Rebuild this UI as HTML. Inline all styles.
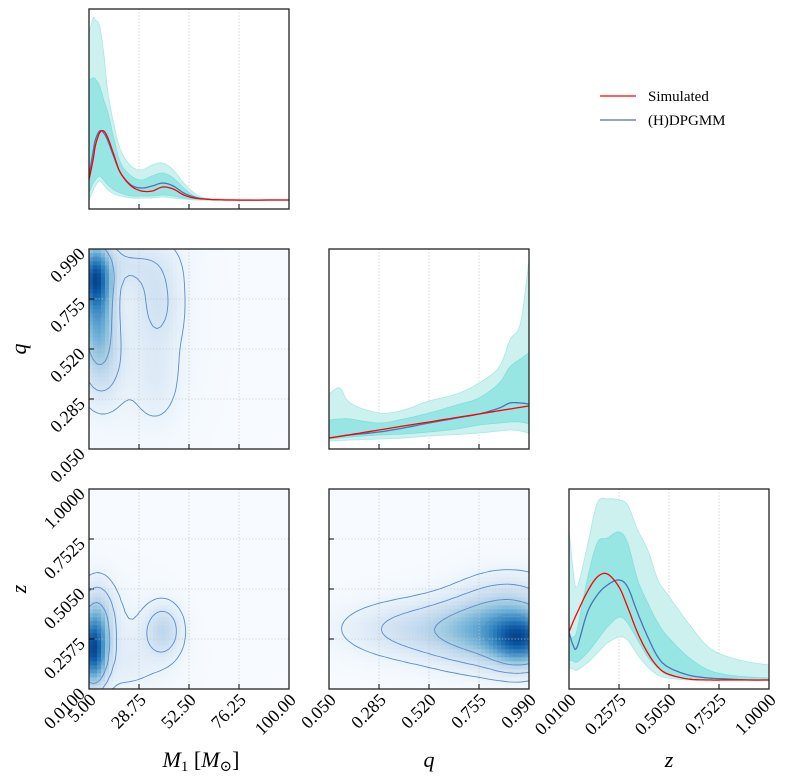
<!DOCTYPE html>
<html><head><meta charset="utf-8">
<style>
html,body{margin:0;padding:0;background:#fff;}
svg{display:block;font-family:"Liberation Serif","DejaVu Serif",serif;}
</style></head>
<body>
<svg id="fig" width="804" height="781" viewBox="0 0 804 781" xmlns="http://www.w3.org/2000/svg"></svg>
<script>
// ---------- DATA ----------
const m1Ticks = [5, 28.75, 52.5, 76.25, 100];
const m1TickLabels = ["5.00","28.75","52.50","76.25","100.00"];
const qTicks = [0.05, 0.285, 0.52, 0.755, 0.99];
const qTickLabels = ["0.050","0.285","0.520","0.755","0.990"];
const zTicks = [0.01, 0.2575, 0.505, 0.7525, 1.0];
const zTickLabels = ["0.0100","0.2575","0.5050","0.7525","1.0000"];

// M1 marginal
const m1Grid = [5,7,8,10,12,14,17,20,25,30,35,40,45,50,55,60,70,100];
const m1Sim  = [29,50,63,76,78,71,53,36,23,18,18,22,20,14,11,10,9,9];
const m1Med  = [33,58,69,78,76,68,51,36,24,21,23,26,23,16,12,10,9,9];
const m1Up90 = [176,191,189,183,156,116,83,59,43,39,44,46,39,26,16,11,10,9];
const m1Up68 = [129,131,130,123,109,96,69,46,33,29,33,36,31,21,13,10,9,9];
const m1Lo68 = [16,26,29,33,29,24,19,16,13,13,13,14,13,11,10,9,9,9];
const m1Lo90 = [9,19,23,28,24,19,15,13,11,11,11,12,11,10,9,9,9,9];

// q marginal
const qGrid  = [0.05,0.1,0.15,0.285,0.4,0.52,0.65,0.755,0.85,0.9,0.95,0.99];
const qSim   = [11,12.7,14.4,19,23,27,31.5,35,38.3,40,41.7,43];
const qMed   = [11,12.5,14,17,21,26,31,35,41,46,46,45];
const qUp90  = [55,61,46,36,39,48,55,66,82,109,126,189];
const qUp68  = [29,30,30,26,30,36,44,51,66,82,90,96];
const qLo68  = [10,11,12,14,15,17,20,24,26,27,27,25];
const qLo90  = [8,8.5,9,10,11,13,14.5,16,18,19,18,16];

// z marginal
const zGrid  = [0.01,0.03,0.05,0.1,0.15,0.2,0.2575,0.3,0.35,0.4,0.45,0.5,0.6,0.7,0.8,0.9,1.0];
const zSim   = [57,67,76,97,112,115,102,82,56,36,22,15,10,9,9,9,9];
const zMed   = [57,44,42,76,94,104,109,102,76,52,32,22,14,11,10,9,9];
const zUp90  = [159,120,102,142,186,190,189,184,159,139,109,94,66,42,32,27,24];
const zUp68  = [49,52,59,109,146,151,157,146,109,86,66,52,32,19,14,12,11];
const zLo68  = [29,28,27,36,49,62,72,66,49,32,21,14,10,9,9,9,9];
const zLo90  = [21,20,19,26,36,46,52,49,34,22,14,11,9,9,9,9,9];

// 2D mixture components: [meanX, meanY, sigmaX, sigmaY, weight]
const m1qComps = [[8,0.86,4.5,0.09,1.0],[9,0.7,5,0.14,0.6],[11,0.48,6.5,0.13,0.22],[38,0.74,7,0.14,0.14],[37,0.38,7,0.13,0.07],[22,0.92,13,0.08,0.12],[25,0.6,18,0.3,0.04]];
const m1zComps = [[7,0.2,4,0.1,1.0],[9,0.35,5,0.11,0.3],[40,0.3,5.5,0.08,0.22],[22,0.15,14,0.1,0.05],[15,0.3,15,0.15,0.03]];
const qzComps  = [[0.95,0.26,0.09,0.08,1.0],[0.82,0.3,0.16,0.1,0.5],[0.6,0.3,0.2,0.09,0.2],[0.35,0.31,0.18,0.08,0.08],[0.9,0.45,0.14,0.09,0.15]];
const contourLevels = [0.03,0.1,0.25,0.55];

// ---------- HELPERS ----------
const NS="http://www.w3.org/2000/svg";
const svg=document.getElementById('fig');
function mk(tag,attrs,parent){const e=document.createElementNS(NS,tag);for(const k in attrs)e.setAttribute(k,attrs[k]);(parent||svg).appendChild(e);return e;}
const colX=[89,329,569], rowY=[9,249,489], S=200;
function lin(d0,d1,r0,r1){return v=>r0+(v-d0)/(d1-d0)*(r1-r0);}

const blues=[[247,251,255],[222,235,247],[198,219,239],[158,202,225],[107,174,214],[66,146,198],[33,113,181],[8,81,156],[8,48,107]];
function cmap(t){t=Math.max(0,Math.min(1,t));const p=t*(blues.length-1);const i=Math.min(Math.floor(p),blues.length-2);const f=p-i;const a=blues[i],b=blues[i+1];return `rgb(${Math.round(a[0]+(b[0]-a[0])*f)},${Math.round(a[1]+(b[1]-a[1])*f)},${Math.round(a[2]+(b[2]-a[2])*f)})`;}

function gridAndTicks(g,x0,y0,yTicksOn){
  for(let i=1;i<4;i++){
    const p=x0+i*S/4;
    const l=mk('line',{x1:p,y1:y0,x2:p,y2:y0+S,stroke:'#c4c4c4','stroke-width':0.8,'stroke-dasharray':'1.2,2'},g);
    
    
    if(yTicksOn){const q=y0+i*S/4;const l2=mk('line',{x1:x0,y1:q,x2:x0+S,y2:q,stroke:'#c4c4c4','stroke-width':0.8,'stroke-dasharray':'1.2,2'},g);
      
      }
  }
  for(let i=1;i<4;i++){
    const p=x0+i*S/4;
    const t=mk('line',{x1:p,y1:y0+S,x2:p,y2:y0+S-5,stroke:'#000','stroke-width':1},g);
    
    
    if(yTicksOn){const q=y0+i*S/4;const t2=mk('line',{x1:x0,y1:q,x2:x0+5,y2:q,stroke:'#000','stroke-width':1},g);
      
      }
  }
}
function frame(g,x0,y0){const r=mk('rect',{x:x0,y:y0,width:S,height:S,fill:'none',stroke:'#222','stroke-width':1.3},g);
  
  }

// smooth Catmull-Rom sampling
function smoothPts(xs,ys,sx,sy){
  const P=xs.map((x,i)=>[sx(x),sy(ys[i])]);const out=[];
  for(let i=0;i<P.length-1;i++){
    const p0=P[Math.max(0,i-1)],p1=P[i],p2=P[i+1],p3=P[Math.min(P.length-1,i+2)];
    for(let s=0;s<8;s++){const t=s/8,t2=t*t,t3=t2*t;
      const f=(a,b,c,d)=>0.5*((2*b)+(-a+c)*t+(2*a-5*b+4*c-d)*t2+(-a+3*b-3*c+d)*t3);
      out.push([f(p0[0],p1[0],p2[0],p3[0]),f(p0[1],p1[1],p2[1],p3[1])]);}
  }
  out.push(P[P.length-1]);return out;
}
function ptsToD(p){return p.map((q,i)=>(i?'L':'M')+q[0].toFixed(1)+','+q[1].toFixed(1)).join('');}
function areaPath(xs,lo,hi,sx,sy){const a=smoothPts(xs,hi,sx,sy),b=smoothPts(xs,lo,sx,sy).reverse();return ptsToD(a.concat(b))+'Z';}
function linePath(xs,ys,sx,sy){return ptsToD(smoothPts(xs,ys,sx,sy));}

function marginal(name,col,row,dom,xs,lo90,lo68,up68,up90,sim,med){
  const x0=colX[col],y0=rowY[row];
  const g=mk('g',{});
  
  
  const sx=lin(dom[0],dom[1],x0,x0+S), sy=lin(0,200,y0+S,y0);
  const clip=mk('clipPath',{id:'c'+name},g);mk('rect',{x:x0,y:y0,width:S,height:S},clip);
  const inner=mk('g',{'clip-path':`url(#c${name})`},g);
  gridAndTicks(inner,x0,y0,false);
  const b90=mk('path',{d:areaPath(xs,lo90,up90,sx,sy),fill:'#cdf1ef',stroke:'#a8e8e6','stroke-width':0.8},inner);
  
  
  const b68=mk('path',{d:areaPath(xs,lo68,up68,sx,sy),fill:'#98e6e4',stroke:'#7fdedc','stroke-width':0.8},inner);
  
  
  const lm=mk('path',{d:linePath(xs,med,sx,sy),fill:'none',stroke:'#4a72b0','stroke-width':1.3},inner);
  
  
  const ls=mk('path',{d:linePath(xs,sim,sx,sy),fill:'none',stroke:'#ff0000','stroke-width':1.3},inner);
  
  
  frame(g,x0,y0);
}

function density(comps,x,y){let s=0;for(const c of comps){const dx=(x-c[0])/c[2],dy=(y-c[1])/c[3];s+=c[4]*Math.exp(-0.5*(dx*dx+dy*dy));}return s;}

function joint(name,col,row,xd,yd,comps){
  const x0=colX[col],y0=rowY[row];
  const g=mk('g',{});
  
  
  const N=50,cs=S/N;
  const vals=[];let mx=0;
  for(let j=0;j<=N;j++){vals.push([]);for(let i=0;i<=N;i++){const x=xd[0]+(xd[1]-xd[0])*i/N,y=yd[0]+(yd[1]-yd[0])*j/N;const v=density(comps,x,y);vals[j].push(v);if(v>mx)mx=v;}}
  const hm=mk('g',{},g);
  
  
  for(let j=0;j<N;j++)for(let i=0;i<N;i++){
    const x=xd[0]+(xd[1]-xd[0])*(i+0.5)/N,y=yd[0]+(yd[1]-yd[0])*(j+0.5)/N;
    const v=density(comps,x,y)/mx;
    const r=mk('rect',{x:(x0+i*cs).toFixed(2),y:(y0+S-(j+1)*cs).toFixed(2),width:cs+0.3,height:cs+0.3,fill:cmap(Math.pow(v,0.75)*0.92)},hm);
    
    
  }
  gridAndTicks(g,x0,y0,true);
  const px=i=>x0+i*cs, py=j=>y0+S-j*cs;
  for(const lv of contourLevels){
    const L=lv*mx;let d='';
    for(let j=0;j<N;j++)for(let i=0;i<N;i++){
      const c=[[i,j,vals[j][i]],[i+1,j,vals[j][i+1]],[i+1,j+1,vals[j+1][i+1]],[i,j+1,vals[j+1][i]]];
      const pts=[];
      for(let k=0;k<4;k++){const a=c[k],b=c[(k+1)%4];if((a[2]-L)*(b[2]-L)<0){const t=(L-a[2])/(b[2]-a[2]);pts.push([px(a[0]+(b[0]-a[0])*t),py(a[1]+(b[1]-a[1])*t)]);}}
      for(let k=0;k+1<pts.length;k+=2)d+=`M${pts[k][0].toFixed(1)},${pts[k][1].toFixed(1)}L${pts[k+1][0].toFixed(1)},${pts[k+1][1].toFixed(1)}`;
    }
    const cp=mk('path',{d:d,fill:'none',stroke:'#5a8cc6','stroke-width':0.9},g);
    
    
  }
  frame(g,x0,y0);
}

function tickLabels(labels,axis,col,row,name){
  const x0=colX[col],y0=rowY[row];
  labels.forEach((lab,i)=>{
    let t;
    if(axis==='x'){const x=x0+i*S/4;t=mk('text',{x:0,y:0,'font-size':18,'text-anchor':'end',transform:`translate(${x+8},${y0+S+12}) rotate(-45)`});}
    else{const y=y0+S-i*S/4;t=mk('text',{x:0,y:0,'font-size':18,'text-anchor':'end',transform:`translate(${x0-3},${y+6}) rotate(-45)`});}
    t.textContent=lab;
    
    
  });
}

// ---------- DRAW ----------
marginal('m1-marginal',0,0,[5,100],m1Grid,m1Lo90,m1Lo68,m1Up68,m1Up90,m1Sim,m1Med);
marginal('q-marginal',1,1,[0.05,0.99],qGrid,qLo90,qLo68,qUp68,qUp90,qSim,qMed);
marginal('z-marginal',2,2,[0.01,1.0],zGrid,zLo90,zLo68,zUp68,zUp90,zSim,zMed);
joint('m1-q-joint',0,1,[5,100],[0.05,0.99],m1qComps);
joint('m1-z-joint',0,2,[5,100],[0.01,1.0],m1zComps);
joint('q-z-joint',1,2,[0.05,0.99],[0.01,1.0],qzComps);

tickLabels(qTickLabels,'y',0,1,'q-y-tick-label');
tickLabels(zTickLabels,'y',0,2,'z-y-tick-label');
tickLabels(m1TickLabels,'x',0,2,'m1-x-tick-label');
tickLabels(qTickLabels,'x',1,2,'q-x-tick-label');
tickLabels(zTickLabels,'x',2,2,'z-x-tick-label');

function lab(txt,x,y,rot,name){const t=mk('text',{x:0,y:0,'font-size':22,'font-style':'italic','text-anchor':'middle',transform:`translate(${x},${y}) rotate(${rot})`});t.textContent=txt;
  
  return t;}
lab('q',26,349,-90,'y-axis-title-q');
lab('z',26,589,-90,'y-axis-title-z');
lab('q',429,767,0,'x-axis-title-q');
lab('z',669,767,0,'x-axis-title-z');
const m1l=mk('text',{x:201,y:767,'font-size':22,'text-anchor':'middle'});


m1l.innerHTML='<tspan font-style="italic">M</tspan><tspan font-size="15" dy="4">1</tspan><tspan dy="-4"> [</tspan><tspan font-style="italic">M</tspan><tspan font-size="15" dy="4">⊙</tspan><tspan dy="-4">]</tspan>';

const lg=mk('g',{});


const l1=mk('line',{x1:600,y1:96,x2:636,y2:96,stroke:'#ff0000','stroke-width':1.3},lg);


const t1=mk('text',{x:648,y:101,'font-size':15},lg);t1.textContent='Simulated';


const l2=mk('line',{x1:600,y1:120,x2:636,y2:120,stroke:'#4a72b0','stroke-width':1.3},lg);


const t2=mk('text',{x:648,y:125,'font-size':15},lg);t2.textContent='(H)DPGMM';


</script>
</body></html>
